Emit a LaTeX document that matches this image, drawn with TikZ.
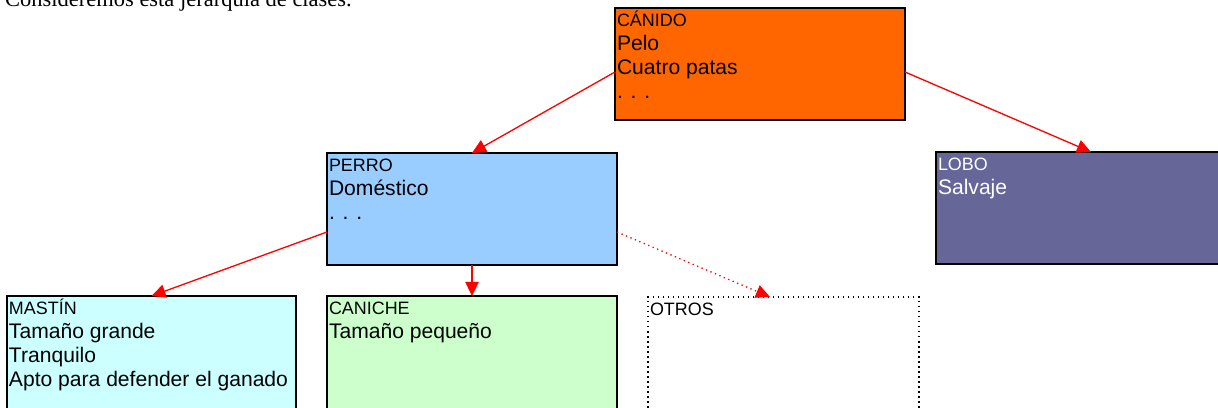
\documentclass[tikz,border=0pt]{standalone}
\usepackage{fontspec}
\setmainfont{Liberation Serif}
\setsansfont{Liberation Sans}
\usetikzlibrary{arrows.meta}
\definecolor{Naranja}{HTML}{FF6600}
\definecolor{Celeste}{HTML}{99CCFF}
\definecolor{Lila}{HTML}{666699}
\definecolor{Turquesa}{HTML}{CCFFFF}
\definecolor{Verde}{HTML}{CCFFCC}
\definecolor{Flecha}{HTML}{FF0000}
\newlength\pxu
\setlength\pxu{0.02cm}
\newcommand{\tit}{\fontsize{10.2}{13.6}\selectfont}
\newcommand{\clase}[3]{\parbox[c][#2\pxu][t]{#1\pxu}{\fontsize{12}{13.6}\selectfont\rule{0pt}{19\pxu}#3}}

\begin{document}
\begin{tikzpicture}[x=0.02cm,y=-0.02cm,
  clase/.style={draw=black,line width=0.85pt,anchor=north west,inner xsep=0.04cm,inner ysep=0pt,outer sep=0pt,font=\sffamily},
  herencia/.style={draw=Flecha,line width=0.75pt,-{Triangle[length=8pt,width=7.6pt]}}]
\useasboundingbox (0,0) rectangle (1218,408);
\clip (0,0) rectangle (1218,408);
\node[anchor=base west,font=\fontsize{12.8}{15}\selectfont] (intro) at (-1,7) {Consideremos esta jerarquía de clases.};
% clases
\node[clase,fill=Naranja] (canido) at (615,8) {\clase{286}{112}{{\tit CÁNIDO}\\Pelo\\Cuatro patas\\. . .}};
\node[clase,fill=Celeste] (perro) at (327,153) {\clase{286}{112}{{\tit PERRO}\\Doméstico\\. . .}};
\node[clase,fill=Lila,text=white] (lobo) at (936,152) {\clase{306}{112}{{\tit LOBO}\\Salvaje}};
\node[clase,fill=Turquesa] (mastin) at (7,296) {\clase{285}{115}{{\tit MASTÍN}\\Tamaño grande\\Tranquilo\\Apto para defender el ganado}};
\node[clase,fill=Verde] (caniche) at (327,296) {\clase{286}{115}{{\tit CANICHE}\\Tamaño pequeño}};
\node[clase,fill=white,dotted,line width=0.6pt] (otros) at (648,297) {\clase{267}{115}{{\tit OTROS}}};
% flechas
\draw[herencia] ([yshift=-0.16cm]canido.west) -- (perro.north);
\draw[herencia] ([yshift=-0.16cm]canido.east) -- (lobo.north);
\draw[herencia] ([yshift=-0.46cm]perro.west) -- (mastin.north);
\draw[herencia] (perro.south) -- (caniche.north);
\draw[herencia,dotted] ([yshift=-0.46cm]perro.east) -- ([xshift=-0.27cm]otros.north);
\end{tikzpicture}
\end{document}
